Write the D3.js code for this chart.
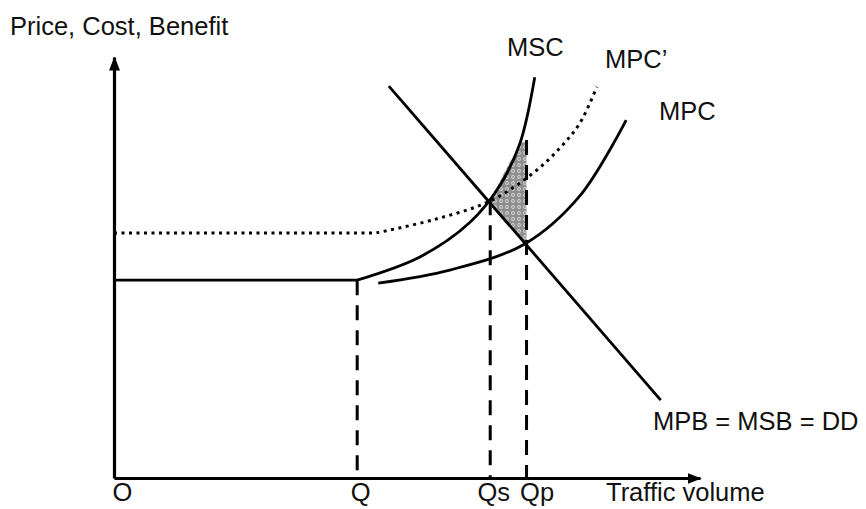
<!DOCTYPE html>
<html>
<head>
<meta charset="utf-8">
<script src="https://cdn.jsdelivr.net/npm/d3@7"></script>
<style>
  body { margin: 0; background: #fff; }
  text { font-family: "Liberation Sans", Arial, sans-serif; font-size: 25.5px; fill: #111; }
</style>
</head>
<body>
<div id="chart"></div>
<script>
var width = 866
var height = 509

// quantities (arbitrary units, 0..10)
var qValues = { Q: 4.15, Qs: 6.42, Qp: 7.04 }
var priceLevel = 4.70       // flat part of MSC / MPC
var taxedLevel = 5.82       // flat part of MPC'

var xTickNames = ['O', 'Q', 'Qs', 'Qp']
var xTickValues = [0, qValues.Q, qValues.Qs, qValues.Qp]

var flatCost = [[0, priceLevel], [qValues.Q, priceLevel]]
var flatTaxed = [[0, taxedLevel], [4.47, taxedLevel]]

var mscPoints = [[4.15, 4.70], [5.22, 5.25], [6.08, 6.08], [6.59, 6.96],
  [6.93, 7.96], [7.18, 9.52]]
var mpcPoints = [[4.51, 4.63], [5.73, 4.94], [7.01, 5.56], [7.95, 6.70], [8.74, 8.50]]
var mpcTaxPoints = [[4.47, 5.82], [5.44, 6.13], [6.42, 6.58],
  [7.15, 7.24], [7.61, 7.84], [7.95, 8.43], [8.24, 9.29]]
var demandPoints = [[4.69, 9.31], [9.33, 1.85]]
var lossPoints = [[6.42, 6.60], [6.71, 7.39], [6.93, 7.96], [7.04, 8.00], [7.04, 5.53]]

// dashed drop lines: [x, top]
var dropLines = [[qValues.Q, priceLevel], [qValues.Qs, 6.60], [qValues.Qp, 8.03]]

var svg = d3.select('#chart')
  .append('svg')
  .attr('width', width)
  .attr('height', height)

var x = d3.scaleLinear().domain([0, 10]).range([114, 700])
var y = d3.scaleLinear().domain([0, 10]).range([478, 57])

var defs = svg.append('defs')
defs.append('marker')
  .attr('id', 'arrow')
  .attr('viewBox', '0 -6 14 12')
  .attr('refX', 13)
  .attr('refY', 0)
  .attr('markerUnits', 'userSpaceOnUse')
  .attr('markerWidth', 14)
  .attr('markerHeight', 12)
  .attr('orient', 'auto')
  .append('path')
  .attr('d', 'M0,-5.5L14,0L0,5.5Z')
  .attr('fill', '#000')

var pat = defs.append('pattern')
  .attr('id', 'dots')
  .attr('patternUnits', 'userSpaceOnUse')
  .attr('width', 6)
  .attr('height', 6)
pat.append('rect').attr('width', 6).attr('height', 6).attr('fill', '#8e8e8e')
pat.append('circle').attr('cx', 3).attr('cy', 3).attr('r', 1.9).attr('fill', '#d4d4d4')
pat.append('circle').attr('cx', 3).attr('cy', 3).attr('r', 0.7).attr('fill', '#555')

var line = d3.line()
  .x(d => x(d[0]))
  .y(d => y(d[1]))

var curve = d3.line()
  .x(d => x(d[0]))
  .y(d => y(d[1]))
  .curve(d3.curveCatmullRom.alpha(0.5))

// shaded deadweight loss
svg.append('path')
  .attr('d', line(lossPoints) + 'Z')
  .attr('fill', 'url(#dots)')

// dashed drop lines
svg.selectAll('.drop')
  .data(dropLines)
  .enter()
  .append('line')
  .attr('class', 'drop')
  .attr('x1', d => x(d[0]))
  .attr('x2', d => x(d[0]))
  .attr('y1', d => y(d[1]))
  .attr('y2', y(0))
  .attr('stroke', '#000')
  .attr('stroke-width', 3)
  .attr('stroke-dasharray', '15,10')

// MPC' dotted
svg.append('path')
  .attr('d', line(flatTaxed) + curve(mpcTaxPoints).replace(/^M/, 'L'))
  .attr('fill', 'none')
  .attr('stroke', '#000')
  .attr('stroke-width', 3)
  .attr('stroke-dasharray', '3,4.5')

// flat cost, MSC and MPC
svg.append('path')
  .attr('d', line(flatCost) + curve(mscPoints).replace(/^M/, 'L'))
  .attr('fill', 'none')
  .attr('stroke', '#000')
  .attr('stroke-width', 2.8)

svg.append('path')
  .attr('d', curve(mpcPoints))
  .attr('fill', 'none')
  .attr('stroke', '#000')
  .attr('stroke-width', 2.8)

// demand
svg.append('path')
  .attr('d', line(demandPoints))
  .attr('fill', 'none')
  .attr('stroke', '#000')
  .attr('stroke-width', 2.8)

// axes
var xAxis = svg.append('g')
  .attr('transform', 'translate(0,' + y(0) + ')')
  .call(d3.axisBottom(x)
    .tickValues(xTickValues)
    .tickFormat((d, i) => xTickNames[i])
    .tickSize(0)
    .tickSizeOuter(0)
    .tickPadding(4))
xAxis.attr('font-size', null).attr('font-family', null)
xAxis.select('.domain')
  .attr('stroke-width', 3.2)
  .attr('marker-end', 'url(#arrow)')
xAxis.selectAll('.tick text')
  .attr('fill', null)
  .attr('dy', '0.75em')
  .attr('text-anchor', (d, i) => (i === 0 || i === 3) ? 'start' : 'middle')
  .attr('dx', (d, i) => i === 0 ? -2 : i === 3 ? -7 : 3)

var yAxis = svg.append('g')
  .attr('transform', 'translate(' + x(0) + ',0)')
  .call(d3.axisLeft(y).tickValues([]).tickSizeOuter(0))
yAxis.select('.domain')
  .attr('stroke-width', 3.2)
  .attr('marker-end', 'url(#arrow)')

// labels
svg.append('text').attr('x', 10).attr('y', 35).text('Price, Cost, Benefit')
svg.append('text').attr('x', 606).attr('y', 501).text('Traffic volume')
svg.append('text').attr('x', 507).attr('y', 56).text('MSC')
svg.append('text').attr('x', 605).attr('y', 68).text('MPC\u2019')
svg.append('text').attr('x', 659).attr('y', 120).text('MPC')
svg.append('text').attr('x', 653).attr('y', 430).text('MPB = MSB = DD')
</script>
</body>
</html>
